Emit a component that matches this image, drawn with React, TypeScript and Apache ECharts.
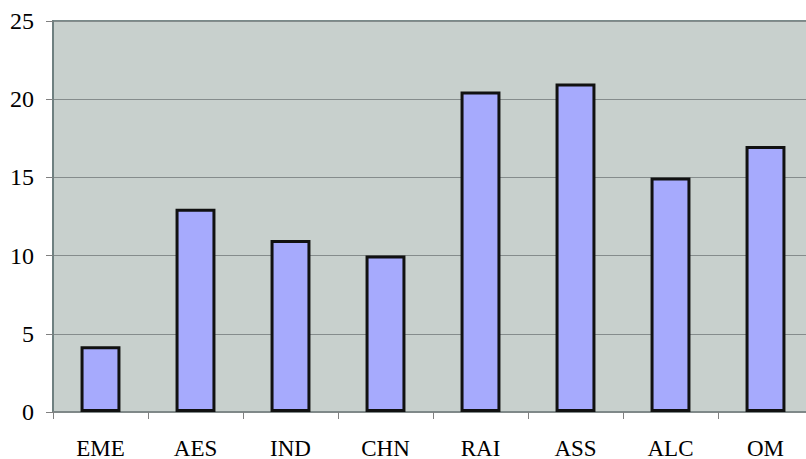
import React, { useEffect, useRef } from "react";
import * as echarts from "echarts";

const categories = ["EME", "AES", "IND", "CHN", "RAI", "ASS", "ALC", "OM"];
const values = [4.2, 13, 11, 10, 20.5, 21, 15, 17];
const yTicks = { min: 0, max: 25, interval: 5 };

export default function App() {
  const ref = useRef<HTMLDivElement>(null);
  useEffect(() => {
    const chart = echarts.init(ref.current!, null, { renderer: "svg" });
    chart.setOption({
      animation: false,
      backgroundColor: "#ffffff",
      grid: {
        left: 53,
        right: -7,
        top: 21,
        bottom: 47,
        containLabel: false,
        outerBoundsMode: "none",
        show: true,
        backgroundColor: "#c8d0cd",
        borderColor: "#7a8a8a",
        borderWidth: 2,
      },
      xAxis: {
        type: "category",
        data: categories,
        axisLine: { show: true, lineStyle: { color: "#808888", width: 1.5 } },
        axisTick: { show: true, length: 7, lineStyle: { color: "#808080" } },
        axisLabel: {
          color: "#000",
          fontFamily: "Liberation Serif",
          fontSize: 23,
          lineHeight: 20,
          margin: 26,
        },
      },
      yAxis: {
        type: "value",
        min: yTicks.min,
        max: yTicks.max,
        interval: yTicks.interval,
        axisLine: { show: true, lineStyle: { color: "#6f8080", width: 2 } },
        axisTick: { show: true, length: 7, lineStyle: { color: "#808080" } },
        axisLabel: {
          color: "#000",
          fontFamily: "Liberation Serif",
          fontSize: 24,
          margin: 19,
        },
        splitLine: { show: true, lineStyle: { color: "#858c8c", width: 1 } },
      },
      series: [
        {
          type: "bar",
          data: values,
          barWidth: "42%",
          itemStyle: {
            color: "#a6aafd",
            borderColor: "#111111",
            borderWidth: 3,
          },
        },
      ],
    });
    return () => chart.dispose();
  }, []);
  return (
    <div
      ref={ref}
      style={{ position: "fixed", left: 0, top: 0, width: 806, height: 459 }}
    />
  );
}
